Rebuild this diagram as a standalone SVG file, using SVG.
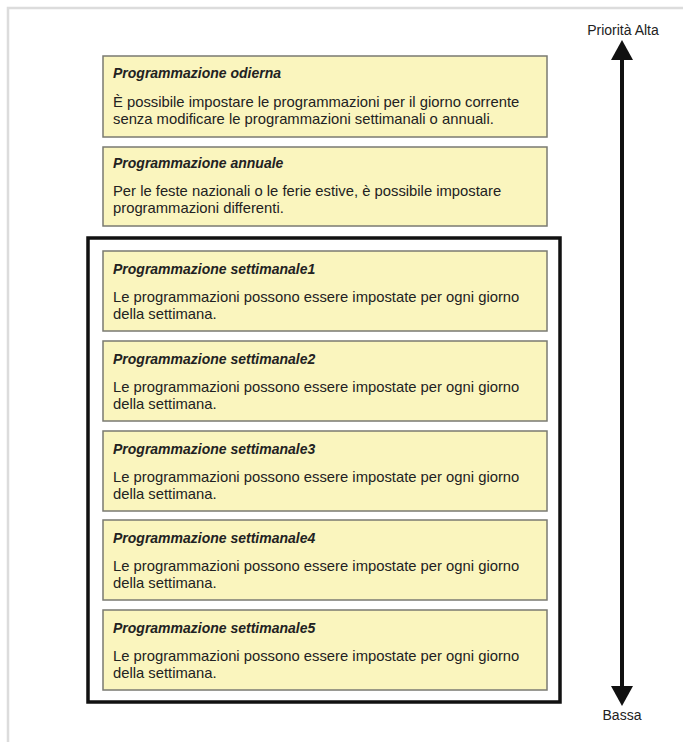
<svg xmlns="http://www.w3.org/2000/svg" width="683" height="742" viewBox="0 0 683 742">
<style>
.box{fill:#faf5be;stroke:#7a7a72;stroke-width:1.5}
.t{font-family:"Liberation Sans",Arial,sans-serif;font-size:14px;font-weight:bold;font-style:italic;fill:#222}
.b{font-family:"Liberation Sans",Arial,sans-serif;font-size:14.8px;fill:#222}
.lab{font-family:"Liberation Sans",Arial,sans-serif;font-size:14px;fill:#222;text-anchor:middle}
</style>
<rect width="683" height="742" fill="#fff"/>
<path d="M8 742V8H683" fill="none" stroke="#dcdcdc" stroke-width="2.5"/>
<g id="odierna">
<rect class="box" x="103" y="56" width="444" height="81"/>
<text class="t" x="113" y="78">Programmazione odierna</text>
<text class="b" x="113" y="107">È possibile impostare le programmazioni per il giorno corrente</text>
<text class="b" x="113" y="124">senza modificare le programmazioni settimanali o annuali.</text>
</g>
<g id="annuale">
<rect class="box" x="103" y="147" width="444" height="79"/>
<text class="t" x="113" y="168">Programmazione annuale</text>
<text class="b" x="113" y="196">Per le feste nazionali o le ferie estive, è possibile impostare</text>
<text class="b" x="113" y="213">programmazioni differenti.</text>
</g>
<g id="settimanale-frame">
<rect x="88" y="238" width="472" height="464" fill="none" stroke="#111" stroke-width="3.5"/>
</g>
<g id="settimanale1">
<rect class="box" x="103" y="251" width="444" height="80"/>
<text class="t" x="113" y="274">Programmazione settimanale1</text>
<text class="b" x="113" y="302">Le programmazioni possono essere impostate per ogni giorno</text>
<text class="b" x="113" y="319">della settimana.</text>
</g>
<g id="settimanale2">
<rect class="box" x="103" y="341" width="444" height="80"/>
<text class="t" x="113" y="364">Programmazione settimanale2</text>
<text class="b" x="113" y="392">Le programmazioni possono essere impostate per ogni giorno</text>
<text class="b" x="113" y="409">della settimana.</text>
</g>
<g id="settimanale3">
<rect class="box" x="103" y="431" width="444" height="80"/>
<text class="t" x="113" y="454">Programmazione settimanale3</text>
<text class="b" x="113" y="482">Le programmazioni possono essere impostate per ogni giorno</text>
<text class="b" x="113" y="499">della settimana.</text>
</g>
<g id="settimanale4">
<rect class="box" x="103" y="520" width="444" height="80"/>
<text class="t" x="113" y="543">Programmazione settimanale4</text>
<text class="b" x="113" y="571">Le programmazioni possono essere impostate per ogni giorno</text>
<text class="b" x="113" y="588">della settimana.</text>
</g>
<g id="settimanale5">
<rect class="box" x="103" y="610" width="444" height="80"/>
<text class="t" x="113" y="633">Programmazione settimanale5</text>
<text class="b" x="113" y="661">Le programmazioni possono essere impostate per ogni giorno</text>
<text class="b" x="113" y="678">della settimana.</text>
</g>
<g id="priority-axis">
<line x1="622" y1="58" x2="622" y2="688" stroke="#111" stroke-width="4"/>
<polygon points="622,40 611,60 633,60" fill="#111"/>
<polygon points="622,706 611,686 633,686" fill="#111"/>
</g>
<g id="labels">
<text class="lab" x="623" y="35">Priorità Alta</text>
<text class="lab" x="622" y="720">Bassa</text>
</g>
</svg>
